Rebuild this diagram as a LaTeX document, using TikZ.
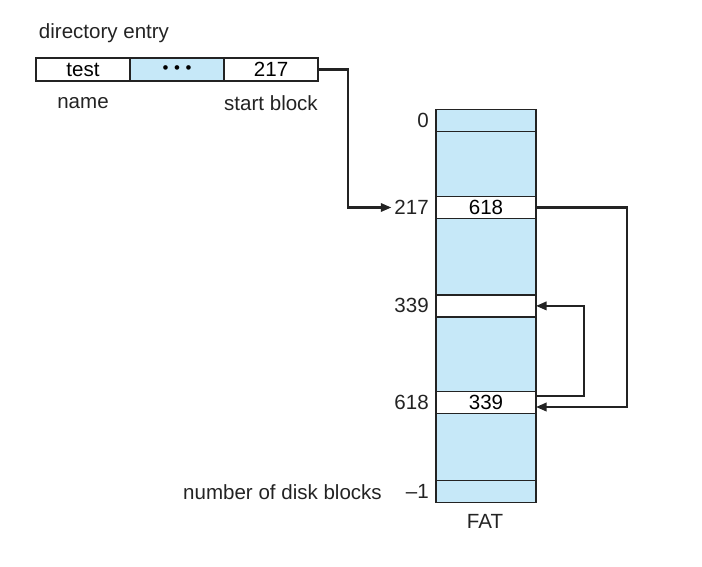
\documentclass[tikz,border=0pt]{standalone}
\usepackage{fontspec}
\setmainfont{Liberation Sans}
\usepackage{tikz}
\usetikzlibrary{positioning, arrows.meta}

\definecolor{fatblue}{RGB}{198,232,248}
\definecolor{inkgray}{RGB}{35,35,35}

\begin{document}
\begin{tikzpicture}[
    x=0.025cm, y=-0.025cm,
    font=\fontsize{14.6}{17}\selectfont,
    dircell/.style={draw=inkgray, line width=1pt, minimum width=2.35cm, minimum height=0.58cm, inner sep=0pt, outer sep=0pt},
    fatcol/.style={draw=inkgray, fill=fatblue, line width=1pt, minimum width=2.5cm, minimum height=9.825cm, inner sep=0pt, outer sep=0pt},
    fatrow/.style={draw=inkgray, fill=white, line width=1pt, minimum width=2.5cm, minimum height=0.55cm, inner sep=0pt, outer sep=0pt},
    idx/.style={inner sep=2pt, text=inkgray},
    lbl/.style={text=inkgray},
    conn/.style={draw=inkgray, line width=1.5pt, -{Triangle[length=7.5pt, width=6pt]}},
]
\useasboundingbox (0,0) rectangle (702,566);

% Directory entry
\node[lbl, anchor=west] (dtitle) at (34,33) {directory entry};
\node[dircell] (dname) at (83,69.5) {test};
\node[dircell, fill=fatblue, right=0pt of dname] (ddots) {\raisebox{-3.5pt}{\fontsize{12}{12}\selectfont •\hspace{4pt}•\hspace{4pt}•}};
\node[dircell, right=0pt of ddots] (dstart) {217};
\node[lbl] (nlbl) at (83,103) {name};
\node[lbl] (slbl) at (271,103) {start block};

% FAT column and its rows
\node[fatcol] (fat) at (486,305.8) {};
\node[fatrow, fill=fatblue] (r0) at (486,120.5) {};
\node[fatrow] (r217) at (486,207.5) {618};
\node[fatrow] (r339) at (486,305.9) {};
\node[fatrow] (r618) at (486,402.5) {339};
\node[fatrow, fill=fatblue] (rend) at (486,491.5) {};

% block numbers
\node[idx, left=3pt of r0] (l0) {0};
\node[idx, left=3pt of r217] (l217) {217};
\node[idx, left=3pt of r339] (l339) {339};
\node[idx, left=3pt of r618] (l618) {618};
\node[idx, left=3pt of rend] (lend) {\textendash 1};
\node[lbl] (nblocks) at (282.5,492.5) {number of disk blocks};
\node[lbl] (fatlbl) at (485,521.5) {FAT};

% chain
\draw[conn] (dstart.east) -- ++(30,0) |- (l217.west);
\draw[conn] (r217.east) -- ++(91,0) |- ([yshift=-3.2pt]r618.east);
\draw[conn] ([yshift=4.6pt]r618.east) -- ++(48,0) |- (r339.east);

\end{tikzpicture}
\end{document}
